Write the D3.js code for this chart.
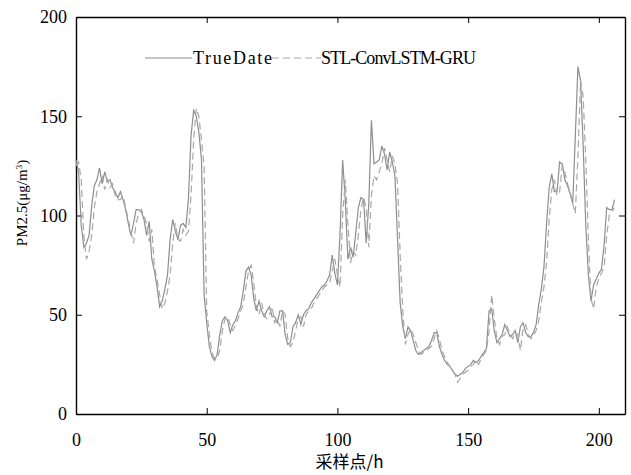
<!DOCTYPE html>
<html>
<head>
<meta charset="utf-8">
<script src="https://cdnjs.cloudflare.com/ajax/libs/d3/7.8.5/d3.min.js"></script>
<style>
  body { margin: 0; background: #fff; }
  .axis path, .axis line { stroke: #000; }
  .axis text { font-family: "Liberation Serif", serif; font-size: 18px; fill: #000; }
</style>
</head>
<body>
<div id="chart"></div>
<script>
// hourly PM2.5, measured vs predicted (index = sampling point)
var trueDate = [
  128, 122, 95, 84, 86, 90, 105, 115, 118, 124,
  116, 122, 117, 118, 114, 112, 109, 112, 108, 103,
  96, 90, 96, 103, 103, 102, 98, 90, 97, 78,
  72, 64, 54, 57, 63, 70, 88, 98, 92, 88,
  95, 96, 94, 108, 140, 153, 150, 142, 128, 60,
  46, 34, 29, 27, 30, 40, 47, 49, 47, 41,
  45, 47, 51, 54, 62, 72, 74, 70, 58, 52,
  57, 52, 49, 52, 54, 49, 49, 46, 52, 52,
  40, 35, 36, 44, 46, 50, 45, 50, 52, 53,
  56, 58, 60, 62, 64, 65, 67, 70, 80, 71,
  65, 91, 128, 108, 78, 84, 79, 91, 104, 109,
  108, 86, 106, 148, 126, 127, 128, 135, 131, 123,
  132, 127, 120, 88, 56, 44, 38, 44, 42, 37,
  32, 30, 31, 32, 33, 34, 37, 41, 41, 34,
  30, 27, 25, 24, 22, 20, 19, 20, 21, 23,
  24, 25, 27, 26, 27, 29, 31, 33, 52, 53,
  42, 36, 38, 40, 45, 42, 39, 40, 42, 36,
  44, 46, 41, 39, 39, 41, 45, 55, 63, 74,
  96, 114, 121, 112, 112, 127, 126, 118, 115, 111,
  106, 140, 175, 168, 135, 95, 70, 57, 65, 68,
  71, 73, 85, 104, 103, 103, 108
];

var predicted = [
  125, 127, 118, 90, 78, 82, 90, 104, 112, 116,
  120, 113, 118, 114, 116, 110, 108, 108, 110, 104,
  98, 92, 86, 96, 101, 103, 100, 96, 87, 93,
  74, 68, 60, 53, 56, 62, 70, 86, 96, 88,
  87, 93, 90, 92, 110, 138, 154, 150, 138, 125,
  52, 40, 31, 28, 28, 32, 42, 48, 49, 45,
  42, 45, 48, 52, 55, 64, 72, 75, 66, 54,
  50, 56, 50, 48, 50, 54, 46, 48, 44, 52,
  50, 38, 34, 36, 42, 48, 49, 44, 50, 52,
  53, 56, 58, 60, 62, 64, 65, 66, 72, 78,
  70, 64, 100, 118, 96, 76, 82, 80, 90, 103,
  109, 104, 84, 110, 120, 118, 122, 126, 134, 128,
  122, 130, 126, 116, 80, 52, 35, 40, 43, 40,
  36, 32, 30, 31, 32, 33, 34, 38, 42, 38,
  32, 29, 26, 24, 22, 20, 16, 18, 20, 21,
  22, 24, 25, 27, 25, 28, 30, 32, 42, 60,
  48, 38, 35, 39, 40, 44, 40, 38, 41, 40,
  32, 43, 45, 40, 38, 39, 42, 47, 56, 64,
  76, 98, 113, 118, 110, 112, 125, 122, 116, 112,
  106, 101, 130, 168, 160, 128, 88, 58, 53, 64,
  68, 71, 74, 90, 100, 102, 104
];

var seriesNames = ["TrueDate", "STL-ConvLSTM-GRU"];
var xTicks = [0, 50, 100, 150, 200];
var yTicks = [0, 50, 100, 150, 200];

var width = 631, height = 475;
var margin = {top: 17, right: 6, bottom: 61, left: 76};
var graphWidth = width - margin.left - margin.right;
var graphHeight = height - margin.top - margin.bottom;

var svg = d3.select("#chart")
  .append("svg")
  .attr("width", width)
  .attr("height", height)
  .append("g")
  .attr("transform", "translate(" + margin.left + "," + margin.top + ")");

var x = d3.scaleLinear().domain([0, 210]).range([0, graphWidth]);
var y = d3.scaleLinear().domain([0, 200]).range([graphHeight, 0]);

// axes, ticks point inward
svg.append("g")
  .attr("class", "axis")
  .attr("transform", "translate(0," + graphHeight + ")")
  .call(d3.axisBottom(x).tickValues(xTicks).tickSizeInner(-6).tickSizeOuter(0).tickPadding(19));

svg.append("g")
  .attr("class", "axis")
  .call(d3.axisTop(x).tickValues(xTicks).tickSizeInner(-6).tickSizeOuter(0).tickFormat(""));

svg.append("g")
  .attr("class", "axis")
  .call(d3.axisLeft(y).tickValues(yTicks).tickSizeInner(-6).tickSizeOuter(0).tickPadding(9));

svg.append("g")
  .attr("class", "axis")
  .attr("transform", "translate(" + graphWidth + ",0)")
  .call(d3.axisRight(y).tickValues(yTicks).tickSizeInner(-6).tickSizeOuter(0).tickFormat(""));

svg.selectAll(".axis path").attr("stroke-width", 1.4);

// lines
var line = d3.line()
  .x(function(d, i) { return x(i); })
  .y(function(d) { return y(d); });

svg.append("path")
  .datum(trueDate)
  .attr("fill", "none")
  .attr("stroke", "#8e8e8e")
  .attr("stroke-width", 1.2)
  .attr("d", line);

svg.append("path")
  .datum(predicted)
  .attr("fill", "none")
  .attr("stroke", "#a8a8a8")
  .attr("stroke-width", 1.2)
  .attr("stroke-dasharray", "7,4")
  .attr("d", line);

// legend
var legend = svg.append("g").attr("transform", "translate(0," + (58 - margin.top) + ")");
legend.append("line")
  .attr("x1", 145 - margin.left).attr("x2", 192 - margin.left)
  .attr("stroke", "#8e8e8e").attr("stroke-width", 1.2);
legend.append("text")
  .attr("x", 193 - margin.left).attr("dy", "0.35em")
  .attr("textLength", 79)
  .style("font-family", "Liberation Serif, serif").style("font-size", "18px")
  .text(seriesNames[0]);
legend.append("line")
  .attr("x1", 272 - margin.left).attr("x2", 321 - margin.left)
  .attr("stroke", "#a8a8a8").attr("stroke-width", 1.2)
  .attr("stroke-dasharray", "7,4");
legend.append("text")
  .attr("x", 321 - margin.left).attr("dy", "0.35em")
  .attr("textLength", 155)
  .style("font-family", "Liberation Serif, serif").style("font-size", "18px")
  .text(seriesNames[1]);

// axis labels
svg.append("text")
  .attr("x", graphWidth / 2 - 1)
  .attr("y", graphHeight + 54)
  .style("text-anchor", "middle")
  .style("font-family", "Noto Sans CJK SC, sans-serif")
  .style("font-size", "17px")
  .text("采样点/h");

var ylab = svg.append("text")
  .attr("transform", "translate(" + (27 - margin.left) + "," + (203 - margin.top) + ") rotate(-90)")
  .style("text-anchor", "middle")
  .style("font-family", "Liberation Serif, serif")
  .style("font-size", "15px");
ylab.append("tspan").text("PM2.5(\u03bcg/m");
ylab.append("tspan").attr("dy", -5).style("font-size", "9px").text("3");
ylab.append("tspan").attr("dy", 5).text(")");
</script>
</body>
</html>
